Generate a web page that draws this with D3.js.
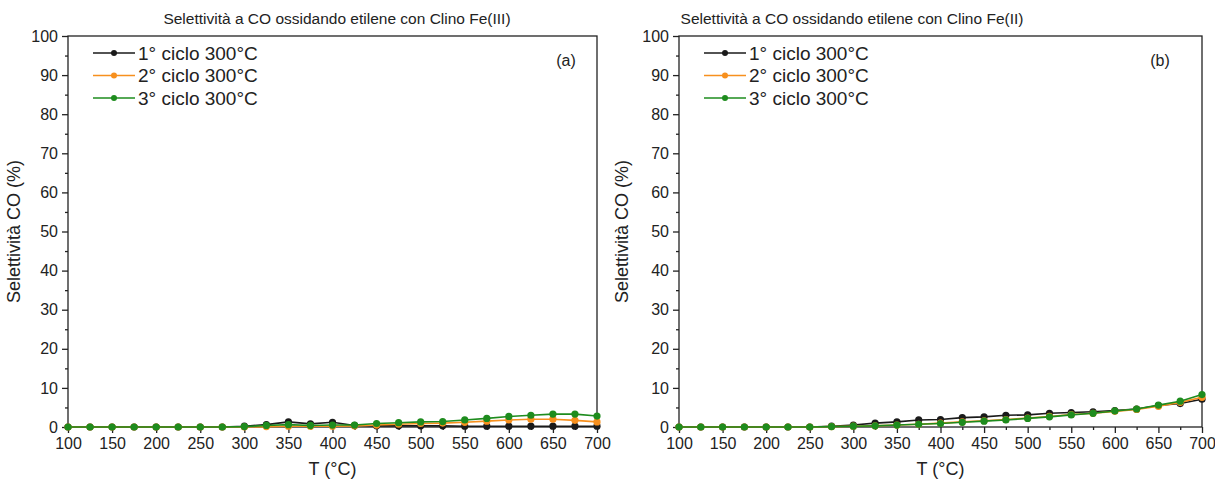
<!DOCTYPE html>
<html>
<head>
<meta charset="utf-8">
<script src="https://cdn.jsdelivr.net/npm/d3@7"></script>
<style>
  body { margin: 0; background: #fff; }
  text { font-family: "Liberation Sans", Arial, sans-serif; fill: #222; }
</style>
</head>
<body>
<div id="chart"></div>
<script>
// temperature (°C)
const temps = [100, 125, 150, 175, 200, 225, 250, 275, 300, 325, 350, 375, 400,
               425, 450, 475, 500, 525, 550, 575, 600, 625, 650, 675, 700];

const seriesNames = ["1° ciclo 300°C", "2° ciclo 300°C", "3° ciclo 300°C"];
const seriesColors = ["#1a1a1a", "#f7901e", "#1e8c1e"];

// (a) Clino Fe(III)
const feIII_c1 = [0, 0, 0, 0, 0, 0, 0, 0, 0.2, 0.6, 1.3, 0.8, 1.2,
                  0.4, 0.3, 0.3, 0.3, 0.3, 0.2, 0.2, 0.2, 0.2, 0.2, 0.2, 0.2];
const feIII_c2 = [0, 0, 0, 0, 0, 0, 0, 0, 0, 0.1, 0.2, 0.2, 0.2,
                  0.3, 0.5, 0.7, 0.9, 1.0, 1.2, 1.5, 1.8, 2.0, 2.0, 1.7, 1.3];
const feIII_c3 = [0, 0, 0, 0, 0, 0, 0, 0, 0.1, 0.4, 0.6, 0.4, 0.5,
                  0.5, 0.9, 1.1, 1.3, 1.4, 1.8, 2.2, 2.7, 3.0, 3.3, 3.3, 2.8];

// (b) Clino Fe(II)
const feII_c1 = [0, 0, 0, 0, 0, 0, 0, 0.2, 0.5, 1.0, 1.3, 1.8, 1.9,
                 2.4, 2.6, 3.0, 3.1, 3.5, 3.7, 3.9, 4.2, 4.6, 5.5, 6.0, 7.1];
const feII_c2 = [0, 0, 0, 0, 0, 0, 0, 0.1, 0.2, 0.3, 0.5, 0.7, 1.0,
                 1.3, 1.6, 1.9, 2.3, 2.7, 3.2, 3.5, 4.0, 4.5, 5.3, 6.3, 7.6];
const feII_c3 = [0, 0, 0, 0, 0, 0, 0, 0.1, 0.2, 0.3, 0.5, 0.7, 0.9,
                 1.2, 1.5, 1.8, 2.2, 2.6, 3.1, 3.5, 4.1, 4.6, 5.6, 6.6, 8.3];

const xMajor = [100, 150, 200, 250, 300, 350, 400, 450, 500, 550, 600, 650, 700];
const yMajor = [0, 10, 20, 30, 40, 50, 60, 70, 80, 90, 100];

const W = 1215, H = 483;
const svg = d3.select("#chart").append("svg")
    .attr("width", W).attr("height", H);
svg.append("rect").attr("width", W).attr("height", H).attr("fill", "#fff");

const panels = [
    { left: 68, right: 597, title: "Selettività a CO ossidando etilene con Clino Fe(III)", titleX: 337,
      tag: "(a)", tagX: 566, ylabX: 20, data: [feIII_c1, feIII_c2, feIII_c3] },
    { left: 679, right: 1202, title: "Selettività a CO ossidando etilene con Clino Fe(II)", titleX: 852,
      tag: "(b)", tagX: 1160, ylabX: 628, data: [feII_c1, feII_c2, feII_c3] }
];
const plotTop = 36, plotBottom = 427;

panels.forEach(p => {
    const x = d3.scaleLinear().domain([100, 700]).range([p.left, p.right]);
    const y = d3.scaleLinear().domain([0, 100]).range([plotBottom, plotTop]);
    const g = svg.append("g");

    // frame
    g.append("rect")
        .attr("x", p.left).attr("y", plotTop)
        .attr("width", p.right - p.left).attr("height", plotBottom - plotTop)
        .attr("fill", "none").attr("stroke", "#222").attr("stroke-width", 1.3);

    // minor ticks
    g.append("g").attr("transform", `translate(0,${plotBottom})`)
        .call(d3.axisBottom(x).tickValues(d3.range(125, 700, 50)).tickSize(3).tickFormat(""))
        .call(a => a.select(".domain").remove());
    g.append("g").attr("transform", `translate(${p.left},0)`)
        .call(d3.axisLeft(y).tickValues(d3.range(5, 100, 10)).tickSize(3).tickFormat(""))
        .call(a => a.select(".domain").remove());

    // major ticks
    const xa = g.append("g").attr("transform", `translate(0,${plotBottom})`)
        .call(d3.axisBottom(x).tickValues(xMajor).tickSize(6).tickPadding(5));
    xa.select(".domain").remove();
    xa.selectAll("text").style("font-size", "16px");
    const ya = g.append("g").attr("transform", `translate(${p.left},0)`)
        .call(d3.axisLeft(y).tickValues(yMajor).tickSize(6).tickPadding(4));
    ya.select(".domain").remove();
    ya.selectAll("text").style("font-size", "16px");
    g.selectAll(".tick line").attr("stroke", "#222").attr("stroke-width", 1.3);

    // labels
    g.append("text").attr("x", p.titleX).attr("y", 24)
        .attr("text-anchor", "middle").style("font-size", "15.5px").text(p.title);
    g.append("text").attr("x", (p.left + p.right) / 2).attr("y", 475)
        .attr("text-anchor", "middle").style("font-size", "18px").text("T (°C)");
    g.append("text")
        .attr("transform", `translate(${p.ylabX},${(plotTop + plotBottom) / 2}) rotate(-90)`)
        .attr("text-anchor", "middle").style("font-size", "18px").text("Selettività CO (%)");
    g.append("text").attr("x", p.tagX).attr("y", 66)
        .attr("text-anchor", "middle").style("font-size", "16px").text(p.tag);

    // series
    const line = d3.line().x((d, i) => x(temps[i])).y(d => y(d));
    p.data.forEach((vals, k) => {
        g.append("path").datum(vals)
            .attr("d", line).attr("fill", "none")
            .attr("stroke", seriesColors[k]).attr("stroke-width", 1.6);
        g.selectAll(null).data(vals).enter().append("circle")
            .attr("cx", (d, i) => x(temps[i])).attr("cy", d => y(d))
            .attr("r", 3.6).attr("fill", seriesColors[k]);
    });

    // legend
    const lg = g.append("g").attr("transform", `translate(${p.left + 25},0)`);
    seriesNames.forEach((name, k) => {
        const ly = 53 + k * 22.5;
        lg.append("line").attr("x1", 0).attr("x2", 42).attr("y1", ly).attr("y2", ly)
            .attr("stroke", seriesColors[k]).attr("stroke-width", 1.6);
        lg.append("circle").attr("cx", 21).attr("cy", ly).attr("r", 3)
            .attr("fill", seriesColors[k]);
        lg.append("text").attr("x", 45).attr("y", ly).attr("dy", "0.35em")
            .style("font-size", "19px").text(name);
    });
});
</script>
</body>
</html>
